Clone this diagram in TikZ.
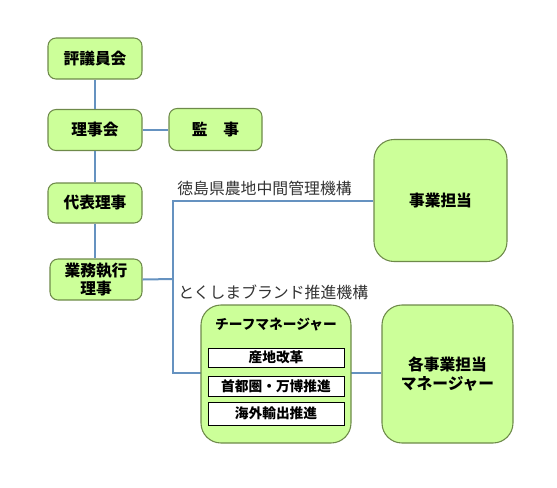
\documentclass[tikz,border=0pt]{standalone}
\usepackage{fontspec}
\setmainfont{Noto Sans CJK JP}
\definecolor{boxfill}{HTML}{CCFF99}
\definecolor{boxline}{HTML}{6E8A4A}
\definecolor{conn}{HTML}{6592C0}
\begin{document}
\begin{tikzpicture}[x=0.75pt,y=-0.75pt,
  gbox/.style={draw=boxline, fill=boxfill, line width=0.8pt, rounded corners=6pt, inner sep=0pt, align=center, font=\fontsize{11.8}{14}\selectfont\bfseries},
  bigbox/.style={gbox, rounded corners=15pt},
  ibox/.style={draw=black, fill=white, line width=0.7pt, inner sep=0pt, minimum width=102pt, font=\fontsize{10.3}{12}\selectfont\bfseries},
  conline/.style={draw=conn, line width=1.5pt},
  lbl/.style={anchor=west, inner sep=0pt, text=black!80, font=\fontsize{11.9}{14}\selectfont}
]
\useasboundingbox (0,0) rectangle (557,487);
% nodes
\node[gbox, minimum width=70.5pt, minimum height=30.75pt] (hyogi) at (95,58.5) {評議員会};
\node[gbox, minimum width=70.5pt, minimum height=30.75pt] (rijikai) at (95,130) {理事会};
\node[gbox, minimum width=69.75pt, minimum height=31.5pt] (kanji) at (215.5,129.5) {監　事};
\node[gbox, minimum width=70.5pt, minimum height=30pt] (daihyo) at (95,203) {代表理事};
\node[gbox, minimum width=69pt, minimum height=30.75pt] (gyomu) at (96,279.5) {業務執行\\理事};
\node[bigbox, minimum width=99.75pt, minimum height=91.5pt] (jigyo) at (440.5,200.5) {事業担当};
\node[bigbox, minimum width=98.25pt, minimum height=103.5pt] (kaku) at (447.5,374) {各事業担当\\マネージャー};
% connectors
\coordinate (busmid) at (173,279);
\coordinate (bustop) at (173,201);
\coordinate (busbot) at (173,373);
\draw[conline] (hyogi.south) -- (rijikai.north);
\draw[conline] (rijikai.south) -- (daihyo.north);
\draw[conline] (daihyo.south) -- (daihyo.south |- gyomu.north);
\draw[conline] (rijikai.east) -- (rijikai.east -| kanji.west);
\draw[conline] (gyomu.east) -- (busmid);
\draw[conline] (bustop -| jigyo.west) -- (bustop) -- (busbot) -- (busbot -| kaku.west);
% chief box drawn on top
\node[bigbox, minimum width=112.5pt, minimum height=103.5pt] (chief) at (276,374) {};
\node[inner sep=0pt, font=\fontsize{10.3}{12}\selectfont\bfseries] (chieft) at (276,325) {チーフマネージャー};
\node[ibox, minimum height=14.25pt] (sanchi) at (276,357.5) {産地改革};
\node[ibox, minimum height=15pt] (shuto) at (276,386) {首都圏・万博推進};
\node[ibox, minimum height=17.25pt] (kaigai) at (276,413.5) {海外輸出推進};
% labels
\node[lbl] (tokushimakiko) at (177,188) {徳島県農地中間管理機構};
\node[lbl] (brand) at (178,292) {とくしまブランド推進機構};
\end{tikzpicture}
\end{document}
